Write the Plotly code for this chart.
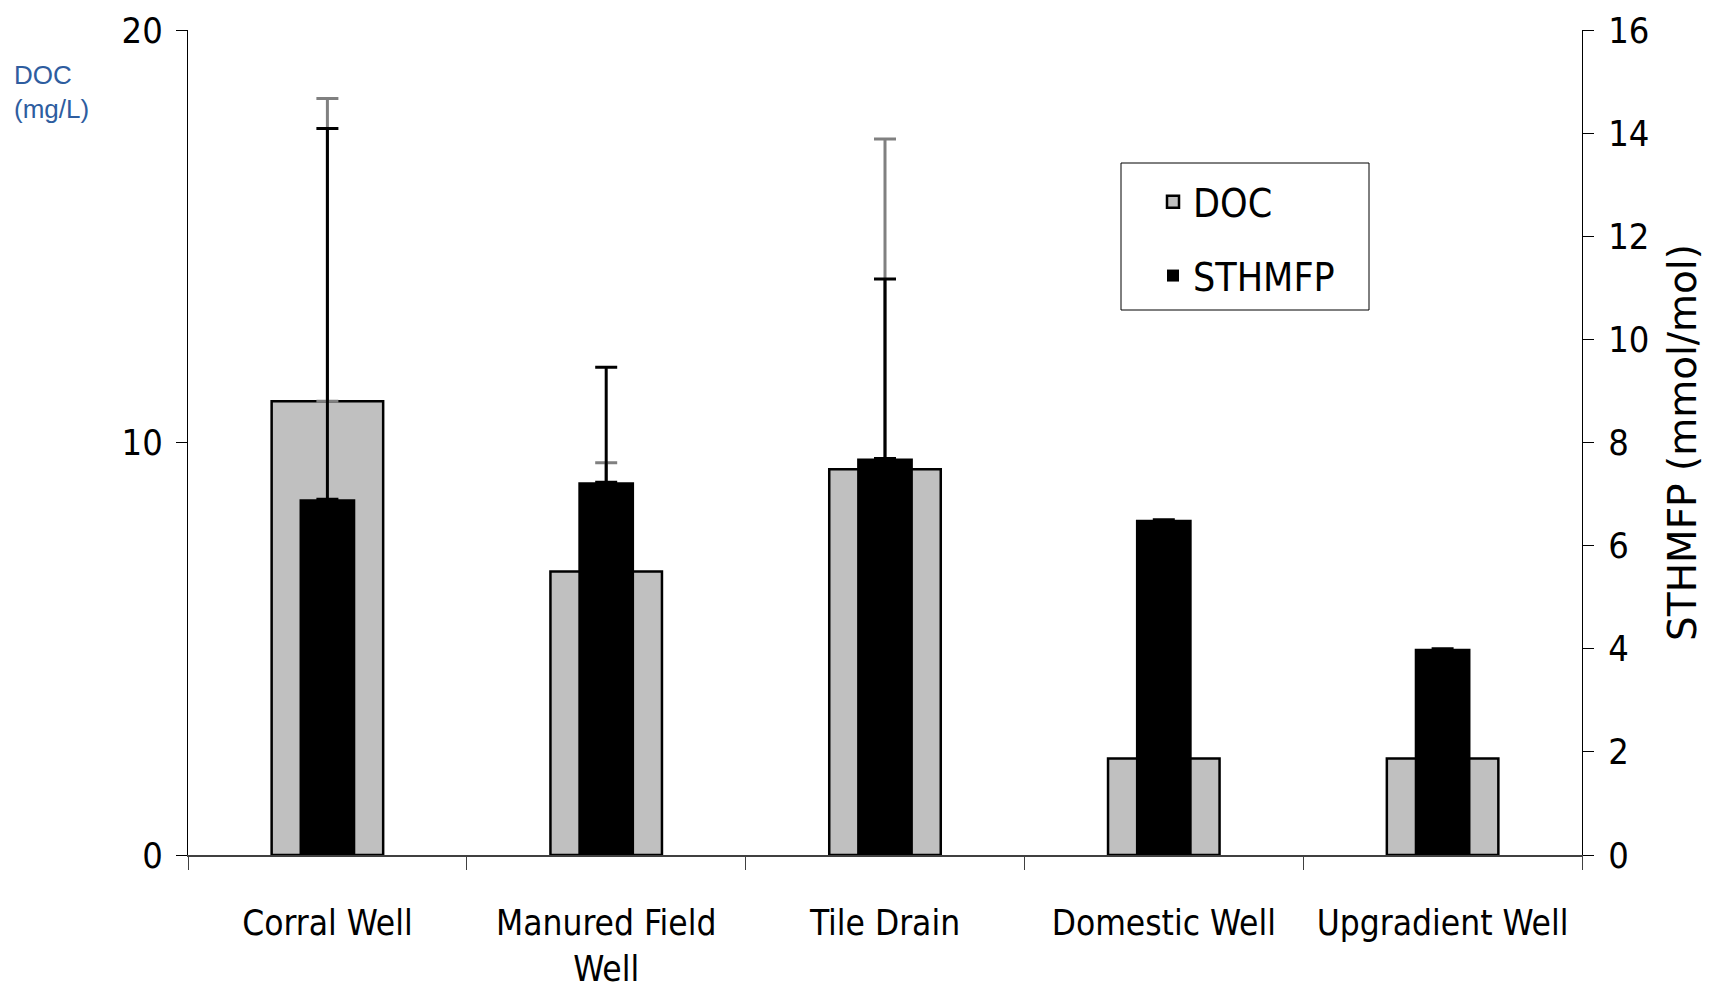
import plotly.graph_objects as go

# ---- data ----
categories = ["Corral Well", "Manured Field<br>Well", "Tile Drain", "Domestic Well", "Upgradient Well"]
doc_values = [11.0, 6.87, 9.35, 2.34, 2.34]          # mg/L (left axis)
doc_err_plus = [7.34, 2.64, 8.01, None, None]
sthmfp_values = [6.9, 7.23, 7.69, 6.5, 4.0]         # mmol/mol (right axis)
sthmfp_err_plus = [7.19, 2.23, 3.48, None, None]
zeros = [0, 0, 0, None, None]

left_ticks = [0, 10, 20]
right_ticks = [0, 2, 4, 6, 8, 10, 12, 14, 16]

COND = "DejaVu Sans Condensed, DejaVu Sans, sans-serif"
WIDE = "DejaVu Sans, sans-serif"
ARIAL = "Liberation Sans, Arial, sans-serif"

fig = go.Figure()

fig.add_trace(go.Bar(
    name="DOC", x=categories, y=doc_values, yaxis="y",
    width=0.4, offset=-0.2,
    marker=dict(color="#C0C0C0", line=dict(color="black", width=2.5)),
    error_y=dict(type="data", symmetric=False, array=doc_err_plus, arrayminus=zeros,
                 color="#808080", thickness=3, width=11),
    legendgroup="doc",
))

fig.add_trace(go.Bar(
    name="STHMFP", x=categories, y=sthmfp_values, yaxis="y2",
    width=0.2, offset=-0.1,
    marker=dict(color="black", line=dict(color="black", width=0)),
    error_y=dict(type="data", symmetric=False, array=sthmfp_err_plus, arrayminus=zeros,
                 color="black", thickness=3, width=11),
    legendgroup="sth",
))

# page has an 8px body margin; work in page pixels and convert
OFF = 8
W, H = 1716 - OFF, 997 - OFF
PL, PR, PT, PB = 188, 1582, 30, 855          # plot area in page pixels
L, T = PL - OFF, PT - OFF
R, B = W - (PR - OFF), H - (PB - OFF)
pw, ph = PR - PL, PB - PT

def px_x(x):
    return (x - PL) / pw

def px_y(y):
    return (PB - y) / ph

fig.update_layout(
    template="none",
    width=W, height=H,
    margin=dict(l=L, r=R, t=T, b=B, pad=0, autoexpand=False),
    paper_bgcolor="white", plot_bgcolor="white",
    barmode="overlay",
    showlegend=True,
    legend=dict(
        x=px_x(1153), y=px_y(170), xanchor="left", yanchor="top",
        font=dict(family=COND, size=39, color="black"),
        bgcolor="rgba(0,0,0,0)", borderwidth=0,
        traceorder="grouped", tracegroupgap=20,
    ),
    xaxis=dict(
        type="category", range=[-0.5, 4.5], automargin=False, tickangle=0,
        tickson="boundaries", ticks="outside", ticklen=13, tickcolor="#404040", tickwidth=1,
        showline=True, linecolor="#404040", linewidth=2,
        showgrid=False, zeroline=False,
        tickfont=dict(family=COND, size=35, color="black"),
        ticklabelstandoff=36,
    ),
    yaxis=dict(
        range=[0, 20], tickvals=left_ticks, ticktext=[str(v) for v in left_ticks], automargin=False,
        ticks="outside", ticklen=11, tickcolor="black", tickwidth=1,
        showline=True, linecolor="black", linewidth=1,
        showgrid=False, zeroline=False,
        tickfont=dict(family=COND, size=36, color="black"),
        ticklabelstandoff=6, ticklabeloverflow="allow",
    ),
    yaxis2=dict(
        overlaying="y", side="right", anchor="x", automargin=False,
        range=[0, 16], tickvals=right_ticks, ticktext=[str(v) for v in right_ticks],
        ticks="outside", ticklen=11, tickcolor="black", tickwidth=1,
        showline=True, linecolor="black", linewidth=1,
        showgrid=False, zeroline=False,
        tickfont=dict(family=COND, size=36, color="black"),
        ticklabelstandoff=7, ticklabeloverflow="allow",
        title=dict(text="STHMFP (mmol/mol)", font=dict(family=WIDE, size=39, color="black"),
                   standoff=20),
    ),
    yaxis3=dict(
        overlaying="y", side="right", anchor="x", automargin=False,
        range=[0, 16], tickvals=right_ticks,
        ticks="inside", ticklen=11, tickcolor="black", tickwidth=1,
        showline=False, showgrid=False, zeroline=False, showticklabels=False,
    ),
    shapes=[dict(
        type="rect", xref="paper", yref="paper",
        x0=px_x(1121), x1=px_x(1369), y0=px_y(310), y1=px_y(163),
        line=dict(color="black", width=1), fillcolor="rgba(0,0,0,0)", layer="above",
    )],
    annotations=[dict(
        text="DOC<br>(mg/L)", xref="paper", yref="paper",
        x=px_x(12), y=px_y(58), xanchor="left", yanchor="top", align="left",
        showarrow=False, font=dict(family=ARIAL, size=26, color="#2E5D9F"),
    )],
)

fig.write_html("out.html")
